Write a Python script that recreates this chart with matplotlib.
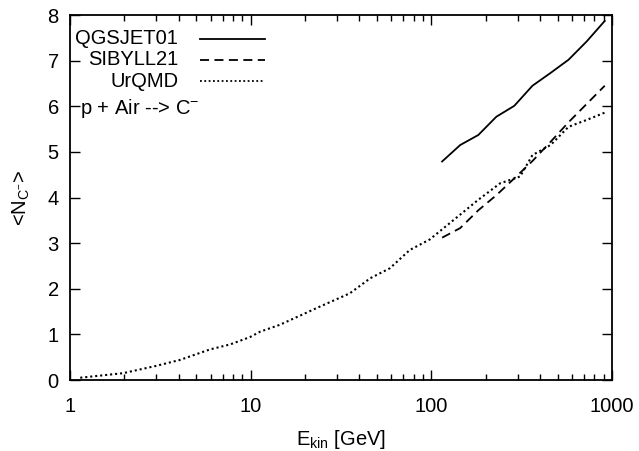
import numpy as np
import matplotlib.pyplot as plt

plt.rcParams['font.family'] = ['Liberation Sans', 'DejaVu Sans']
plt.rcParams['mathtext.fontset'] = 'custom'
plt.rcParams['mathtext.rm'] = 'Liberation Sans'
plt.rcParams['mathtext.it'] = 'Liberation Sans'
plt.rcParams['mathtext.default'] = 'rm'

# -- data --
e_high = [114.8, 144.5, 182, 229, 288, 363, 457, 575, 724, 912]
qgsjet = [4.79, 5.15, 5.37, 5.77, 6.01, 6.45, 6.73, 7.02, 7.42, 7.87]
sibyll = [3.12, 3.33, 3.72, 4.05, 4.42, 4.80, 5.22, 5.65, 6.05, 6.45]

e_urqmd = [1.14, 1.97, 3.0, 4.06, 5.95, 7.7, 9.9, 11.3, 14.5, 24.2, 35.4, 45.9,
           59, 76, 98, 144, 182, 240, 310, 363, 457, 575, 724, 912]
urqmd = [0.05, 0.15, 0.31, 0.44, 0.67, 0.78, 0.94, 1.06, 1.21, 1.61, 1.90, 2.23,
         2.45, 2.85, 3.08, 3.62, 3.95, 4.31, 4.46, 4.93, 5.15, 5.55, 5.70, 5.86]

fig = plt.figure(figsize=(6.39, 4.51), dpi=100)
ax = fig.add_axes([0.1095, 0.1574, 0.8482, 0.8093])

ax.plot(e_high, qgsjet, '-', color='black', lw=1.3)
ax.plot(e_high, sibyll, color='black', lw=1.3, dashes=(5, 3))
ax.plot(e_urqmd, urqmd, color='black', lw=1.5, dashes=(1, 1.4))

ax.set_xscale('log')
ax.set_xlim(1, 1000)
ax.set_ylim(0, 8)
ax.set_yticks(range(0, 9))
ax.set_xticks([1, 10, 100, 1000])
ax.set_xticklabels(['1', '10', '100', '1000'])
ax.tick_params(which='both', direction='in', top=True, right=True, labelsize=14.5)
ax.tick_params(which='major', length=7, width=1)
ax.tick_params(which='minor', length=4, width=1)
ax.tick_params(axis='x', pad=12)
ax.tick_params(axis='y', pad=8)
for s in ax.spines.values():
    s.set_linewidth(1.3)

ax.set_xlabel('E$_{kin}$ [GeV]', fontsize=14.5, labelpad=9)
ax.set_ylabel(r'<N$_{C^{-}}$>', fontsize=14.5, labelpad=11)

# -- key --
names = ['QGSJET01', 'SIBYLL21', 'UrQMD']
styles = [dict(ls='-'), dict(dashes=(5, 3)), dict(dashes=(1, 1.4))]
for i, (nm, st) in enumerate(zip(names, styles)):
    y = 0.935 - i * 0.058
    ax.text(0.200, y, nm, transform=ax.transAxes, ha='right', va='center', fontsize=14.5)
    ax.plot([0.24, 0.36], [y, y], transform=ax.transAxes, color='black', lw=1.3, **st)

ax.text(0.018, 0.745, 'p + Air --> C$^{-}$', transform=ax.transAxes, ha='left', va='center', fontsize=14.5)

fig.savefig('out.png')
